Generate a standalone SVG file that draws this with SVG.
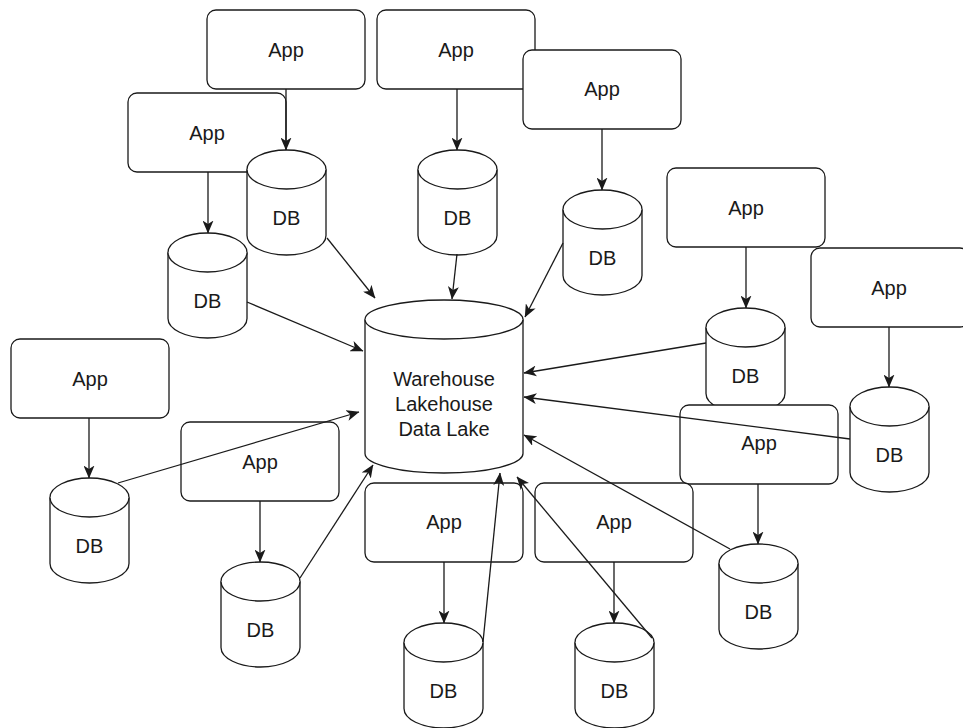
<svg xmlns="http://www.w3.org/2000/svg" xmlns:xlink="http://www.w3.org/1999/xlink" width="963" height="728" viewBox="0 0 963 728">
<style>
.box{fill:#fff;stroke:#1a1a1a;stroke-width:1.3}
.cyl{fill:#fff;stroke:#1a1a1a;stroke-width:1.3}
.lbl{font-family:"Liberation Sans",Arial,sans-serif;font-size:20px;fill:#1a1a1a;text-anchor:middle}
.edge{fill:none;stroke:#1a1a1a;stroke-width:1.3;marker-end:url(#arr)}
</style>
<defs>
<marker id="arr" viewBox="0 0 13 11" refX="12.5" refY="5.5" markerWidth="13" markerHeight="11" markerUnits="userSpaceOnUse" orient="auto">
<path d="M0,0 L13,5.5 L0,11 L3.5,5.5 Z" fill="#1a1a1a"/>
</marker>
<g id="db">
<path class="cyl" d="M0,19.5 A39.5 19.5 0 0 1 79,19.5 L79,85.5 A39.5 19.5 0 0 1 0,85.5 Z"/>
<path class="cyl" fill="none" d="M0,19.5 A39.5 19.5 0 0 0 79,19.5"/>
</g>
</defs>
<rect width="963" height="728" fill="#fff"/>
<g id="nodes">
<g id="app1"><rect class="box" x="207" y="10" width="158" height="79" rx="9"/><text class="lbl" x="286" y="57">App</text></g>
<g id="app3"><rect class="box" x="377" y="10" width="158" height="79" rx="9"/><text class="lbl" x="456" y="57">App</text></g>
<g id="app4"><rect class="box" x="523" y="50" width="158" height="79" rx="9"/><text class="lbl" x="602" y="96">App</text></g>
<g id="app2"><rect class="box" x="128" y="93" width="158" height="79" rx="9"/><text class="lbl" x="207" y="140">App</text></g>
<g id="db1"><use xlink:href="#db" x="247" y="150"/><text class="lbl" x="286.5" y="225">DB</text></g>
<g id="db2"><use xlink:href="#db" x="168" y="233"/><text class="lbl" x="207.5" y="308">DB</text></g>
<g id="db3"><use xlink:href="#db" x="418" y="150"/><text class="lbl" x="457.5" y="225">DB</text></g>
<g id="db4"><use xlink:href="#db" x="563" y="190"/><text class="lbl" x="602.5" y="265">DB</text></g>
<g id="app5"><rect class="box" x="11" y="339" width="158" height="79" rx="9"/><text class="lbl" x="90" y="386">App</text></g>
<g id="db5"><use xlink:href="#db" x="50" y="478"/><text class="lbl" x="89.5" y="553">DB</text></g>
<g id="app6"><rect class="box" x="181" y="422" width="158" height="79" rx="9"/><text class="lbl" x="260" y="469">App</text></g>
<g id="db6"><use xlink:href="#db" x="221" y="562"/><text class="lbl" x="260.5" y="637">DB</text></g>
<g id="app7"><rect class="box" x="667" y="168" width="158" height="79" rx="9"/><text class="lbl" x="746" y="215">App</text></g>
<g id="app8"><rect class="box" x="811" y="248" width="158" height="79" rx="9"/><text class="lbl" x="889" y="295">App</text></g>
<g id="db7"><use xlink:href="#db" x="706" y="308"/><text class="lbl" x="745.5" y="383">DB</text></g>
<g id="app9"><rect class="box" x="680" y="405" width="158" height="79" rx="9"/><text class="lbl" x="759" y="450">App</text></g>
<g id="db8"><use xlink:href="#db" x="850" y="387"/><text class="lbl" x="889.5" y="462">DB</text></g>
<g id="db9"><use xlink:href="#db" x="719" y="544"/><text class="lbl" x="758.5" y="619">DB</text></g>
<g id="app10"><rect class="box" x="365" y="483" width="158" height="79" rx="9"/><text class="lbl" x="444" y="529">App</text></g>
<g id="app11"><rect class="box" x="535" y="483" width="158" height="79" rx="9"/><text class="lbl" x="614" y="529">App</text></g>
<g id="db10"><use xlink:href="#db" x="404" y="623"/><text class="lbl" x="443.5" y="698">DB</text></g>
<g id="db11"><use xlink:href="#db" x="575" y="623"/><text class="lbl" x="614.5" y="698">DB</text></g>
<g id="warehouse">
<path class="cyl" d="M365,319.5 A79 19.5 0 0 1 523,319.5 L523,453.5 A79 19.5 0 0 1 365,453.5 Z"/>
<path class="cyl" fill="none" d="M365,319.5 A79 19.5 0 0 0 523,319.5"/>
<text class="lbl" x="444" y="386">Warehouse</text>
<text class="lbl" x="444" y="411">Lakehouse</text>
<text class="lbl" x="444" y="436">Data Lake</text>
</g>
</g>
<g id="connectors">
<path class="edge" d="M286,89 L286,150"/>
<path class="edge" d="M208,172 L208,233"/>
<path class="edge" d="M457,89 L457,150"/>
<path class="edge" d="M602,129 L602,190"/>
<path class="edge" d="M746,247 L746,308"/>
<path class="edge" d="M889,327 L889,387"/>
<path class="edge" d="M89,418 L89,478"/>
<path class="edge" d="M260,501 L260,562"/>
<path class="edge" d="M758,484 L758,544"/>
<path class="edge" d="M444,562 L444,623"/>
<path class="edge" d="M614,562 L614,623"/>
<path class="edge" d="M327,238 L375,298"/>
<path class="edge" d="M247,302 L363,351"/>
<path class="edge" d="M457,254 L452,299"/>
<path class="edge" d="M563,243 L525,317"/>
<path class="edge" d="M706,343 L524,373"/>
<path class="edge" d="M850,439 L524,397"/>
<path class="edge" d="M730,549 L524,435"/>
<path class="edge" d="M118,483 L359,412"/>
<path class="edge" d="M300,578 L373,465"/>
<path class="edge" d="M483,642 L500,473"/>
<path class="edge" d="M652,638 L517,477"/>
</g>
</svg>
